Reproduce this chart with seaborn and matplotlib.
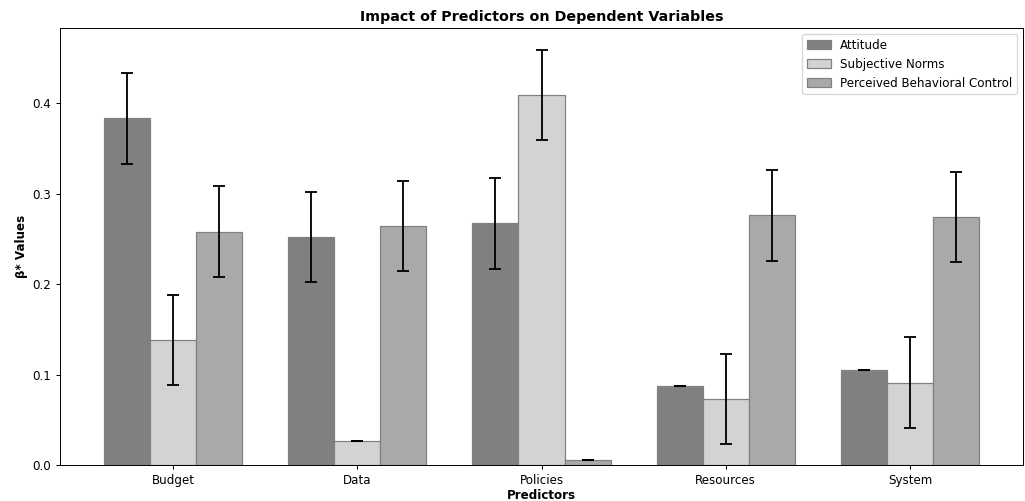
import pandas as pd
import matplotlib
matplotlib.use("Agg")
import matplotlib.pyplot as plt
import seaborn as sns

predictors = ["Budget", "Data", "Policies", "Resources", "System"]
series = ["Attitude", "Subjective Norms", "Perceived Behavioral Control"]
attitude = [0.383, 0.252, 0.267, 0.087, 0.105]
subjective_norms = [0.138, 0.026, 0.409, 0.073, 0.091]
perceived_control = [0.258, 0.264, 0.005, 0.276, 0.274]
err_attitude = [0.05, 0.05, 0.05, 0.0, 0.0]
err_norms = [0.05, 0.0, 0.05, 0.05, 0.05]
err_control = [0.05, 0.05, 0.0, 0.05, 0.05]
colors = ["gray", "lightgray", "darkgray"]


def main():
    values = [attitude, subjective_norms, perceived_control]
    errors = [err_attitude, err_norms, err_control]
    rows = []
    for s, vals in zip(series, values):
        for p, v in zip(predictors, vals):
            rows.append({"Predictor": p, "Series": s, "Beta": v})
    df = pd.DataFrame(rows)

    plt.rcParams["font.size"] = 9.7
    fig, ax = plt.subplots(figsize=(1025 / 88, 501 / 88), dpi=88)
    sns.barplot(data=df, x="Predictor", y="Beta", hue="Series",
                palette=colors, errorbar=None, width=0.75,
                edgecolor="grey", linewidth=1, ax=ax)

    # error bars on top of each bar
    for cont, errs in zip(ax.containers, errors):
        xs = [b.get_x() + b.get_width() / 2 for b in cont]
        ys = [b.get_height() for b in cont]
        ax.errorbar(xs, ys, yerr=errs, fmt="none", ecolor="black",
                    capsize=5, elinewidth=1.5, capthick=1.5)

    ax.set_xlim(-0.6125, 4.6125)
    ax.set_ylim(0, 0.483)
    ax.tick_params(labelsize=9.7)
    ax.set_title("Impact of Predictors on Dependent Variables",
                 fontweight="bold", fontsize=11.7)
    ax.set_xlabel("Predictors", fontweight="bold", fontsize=9.7, labelpad=2)
    ax.set_ylabel("β* Values", fontweight="bold", fontsize=9.7)
    ax.legend(loc="upper right", fontsize=9.7)

    fig.subplots_adjust(left=60 / 1025, right=1023 / 1025,
                        top=1 - 28 / 501, bottom=1 - 465 / 501)
    fig.savefig("out.png", dpi=88)


if __name__ == "__main__":
    main()
